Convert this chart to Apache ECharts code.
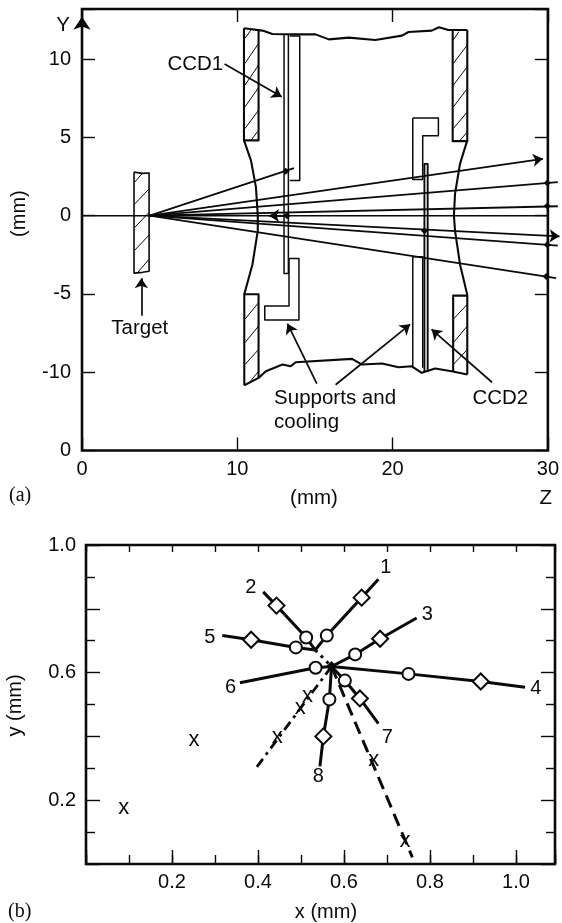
<!DOCTYPE html>
<html><head><meta charset="utf-8">
<style>html,body{margin:0;padding:0;background:#fff}#c{width:562px;height:923px}</style>
<script src="https://cdn.jsdelivr.net/npm/echarts@6/dist/echarts.min.js"></script>
</head><body><div id="c"></div>
<script>
// ---- panel (a): detector geometry, z / Y in mm ----
const aXTicks = {0:'0',10:'10',20:'20',30:'30'};
const aYTicks = {'-15':'0','-10':'-10','-5':'-5','0':'0','5':'5','10':'10'};
const wallOutlines = [
  [[10.43,11.97],[10.43,4.81],[11.37,4.81],[11.37,11.85]],
  [[23.87,11.86],[23.87,4.76],[24.81,4.76],[24.81,11.86]],
  [[10.45,-10.83],[10.45,-5.02],[11.37,-5.02],[11.37,-10.36]],
  [[23.9,-9.94],[23.9,-5.11],[24.81,-5.11],[24.81,-10.15]]
];
const topEdge = [[10.43,11.97],[11.62,11.82],[12.26,11.60],[13.97,11.58],[15.04,11.58],[15.90,11.26],[17.18,11.37],[18.89,11.22],[20.60,11.50],[21.03,11.73],[22.52,11.82],[22.99,12.03],[23.59,11.86],[24.81,11.86]];
const bottomEdge = [[10.45,-10.83],[11.37,-10.36],[11.84,-9.94],[12.91,-9.51],[13.44,-9.62],[13.76,-9.36],[17.39,-9.15],[18.03,-9.51],[19.32,-9.44],[20.38,-9.68],[21.24,-9.62],[21.88,-10.04],[22.74,-9.76],[23.80,-9.94],[24.81,-10.15]];
const leftBore = [[10.43,4.81],[10.88,3.53],[11.20,1.82],[11.32,0],[11.32,-0.96],[10.98,-3.10],[10.45,-5.02]];
const rightBore = [[24.81,4.81],[24.34,3.31],[24.02,1.39],[23.95,0],[24.02,-0.96],[24.34,-3.10],[24.81,-5.06]];
const targetOutline = [[3.35,2.78],[3.9,2.7],[4.32,2.72],[4.32,-3.55],[3.9,-3.62],[3.35,-3.67],[3.35,2.78]];
const thinParts = [
  [[13.38,11.47],[14.02,11.47],[14.02,2.24],[13.38,2.24]],
  [[13.33,-2.73],[13.97,-2.73],[13.97,-6.67],[11.77,-6.67],[11.77,-5.77],[13.33,-5.77],[13.33,-2.73]],
  [[21.30,6.24],[22.95,6.24],[22.95,5.11],[21.94,5.11],[21.94,2.31],[21.30,2.31],[21.30,6.24]],
  [[21.30,-2.63],[21.94,-2.63],[21.94,-9.72]],
  [[21.30,-2.63],[21.30,-9.72]],
  [[13.01,11.54],[13.01,-3.70],[13.29,-3.70],[13.29,11.54]]
];
const ccd2Outline = [[22.05,-9.98],[22.05,3.31],[22.26,3.31],[22.26,-9.98]];
const hatches = [
  [[10.49,11.32],[10.88,11.86]],[[10.49,9.72],[11.37,11.0]],[[10.49,8.33],[11.37,9.62]],[[10.49,6.94],[11.37,8.18]],[[10.49,5.56],[11.37,6.73]],[[10.88,4.81],[11.37,5.45]],
  [[23.91,11.22],[24.27,11.75]],[[23.91,9.72],[24.81,10.90]],[[23.91,8.33],[24.81,9.51]],[[23.91,6.94],[24.81,8.12]],[[23.91,5.56],[24.81,6.62]],[[24.34,4.81],[24.81,5.34]],
  [[3.40,2.14],[3.89,2.71]],[[3.40,0.75],[4.32,1.71]],[[3.40,-0.75],[4.32,0.21]],[[3.40,-2.2],[4.32,-1.24]],[[3.61,-3.6],[4.32,-2.78]],
  [[10.49,-6.62],[11.37,-5.56]],[[10.49,-8.12],[11.37,-7.05]],[[10.49,-9.51],[11.37,-8.55]],[[10.88,-10.53],[11.37,-9.94]],
  [[23.91,-6.62],[24.81,-5.66]],[[23.91,-8.12],[24.81,-7.05]],[[23.91,-9.51],[24.81,-8.55]]
];
const rayOrigin = [4.36,0];
const rayEnds = [[13.65,3.03],[29.68,3.63],[30.64,2.14],[30.64,0.60],[30.75,-1.32],[30.64,-1.92],[30.53,-3.99]];
const rayArrowed = [false,true,false,false,true,false,false];
const rayDots = [[13.12,2.84],[13.2,0],[22.05,-0.96],[29.96,2.09],[29.96,0.62],[29.96,-1.86],[29.89,-3.89]];
const baseLine = [[0,0],[30,0]];
const backArrow = [[13.3,0],[12.05,0]];
const pointerArrows = [
  [[9.18,9.68],[12.86,7.59]],
  [[3.82,-6.4],[3.82,-4.0]],
  [[15.12,-10.73],[13.23,-6.9]],
  [[16.33,-10.8],[21.13,-6.94]],
  [[26.4,-10.64],[22.51,-7.26]]
];
const axisArrow = [[0,11.73],[0,12.7]];
const aTexts = [
  ['CCD1',7.3,9.68,'center'],['Target',3.72,-7.22,'center'],['Supports and',12.37,-11.69,'left'],['cooling',12.37,-13.18,'left'],
  ['CCD2',26.94,-11.65,'center'],['Y',-1.22,12.18,'center'],['Z',29.87,-18.08,'center'],['(mm)',14.94,-18.08,'center']
];
const aSideTitle = ['(mm)',-4.0,0.13];

// ---- panel (b): track pattern, x / y in mm ----
const bXTicks = {2:'0.2',4:'0.4',6:'0.6',8:'0.8',10:'1.0'};
const bYTicks = {2:'0.2',6:'0.6',10:'1.0'};
const vertexA = [0.571,0.619];
const vertexB = [0.533,0.671];
const track1 = [vertexB,[0.560,0.716],[0.641,0.835],[0.680,0.893]];
const track2 = [vertexB,[0.512,0.710],[0.443,0.810],[0.412,0.853]];
const track5 = [vertexB,[0.488,0.679],[0.384,0.703],[0.317,0.716]];
const track3 = [vertexA,[0.626,0.657],[0.684,0.706],[0.769,0.771]];
const track4 = [vertexA,[0.750,0.596],[0.918,0.572],[1.021,0.554]];
const track6 = [vertexA,[0.534,0.615],[0.358,0.568]];
const track7 = [vertexA,[0.602,0.575],[0.637,0.519],[0.680,0.440]];
const track8 = [vertexA,[0.566,0.516],[0.552,0.400],[0.544,0.306]];
const dashedTrack = [vertexA,[0.759,0.021]];
const dashDotTrack = [vertexA,[0.396,0.302]];
const dottedLink = [vertexB,vertexA];
const circles = [[0.560,0.716],[0.512,0.710],[0.488,0.679],[0.626,0.657],[0.750,0.596],[0.534,0.615],[0.602,0.575],[0.566,0.516]];
const diamonds = [[0.641,0.835],[0.443,0.810],[0.384,0.703],[0.684,0.706],[0.918,0.572],[0.637,0.519],[0.552,0.400]];
const crosses = [[0.515,0.526],[0.498,0.490],[0.445,0.398],[0.251,0.390],[0.088,0.176],[0.669,0.327],[0.742,0.073]];
const trackNumbers = [['1',0.697,0.929],['2',0.383,0.867],['3',0.794,0.781],['4',1.046,0.551],['5',0.288,0.710],['6',0.336,0.552],['7',0.701,0.398],['8',0.540,0.273]];
const bTitles = [['x (mm)',0.558,-0.152]];
const bSideTitle = ['y (mm)',-0.165,0.497];
const panelTags = [['(a)',9,497],['(b)',8,913]];

const INK = '#0a0a0a', SANS = '"Liberation Sans",Arial,sans-serif', SERIF = '"Liberation Serif",serif';
const series = [];
function ax(g){return {xAxisIndex:g===0?0:2, yAxisIndex:g===0?0:2};}
function poly(g,pts,w,extra){
  series.push(Object.assign({type:'line',data:pts,showSymbol:false,symbol:'none',clip:false,silent:true,z:3,
    lineStyle:Object.assign({color:INK,width:w,cap:'butt',join:'round'},extra||{})},ax(g)));
}
function segs(g,list,w,arrows,size){
  series.push(Object.assign({type:'lines',coordinateSystem:'cartesian2d',polyline:false,clip:false,silent:true,z:4,
    symbol:arrows?['none','arrow']:['none','none'],symbolSize:size||9,
    lineStyle:{color:INK,width:w,opacity:1,curveness:0},
    data:list.map(s=>({coords:s}))},ax(g)));
}
function texts(g,list,size,rot,font){
  list.forEach(t=>{
    series.push(Object.assign({type:'scatter',symbol:'circle',symbolSize:0,clip:false,silent:true,z:8,
      data:[[t[1],t[2]]],itemStyle:{opacity:1},
      label:{show:true,position:'inside',formatter:t[0],color:INK,fontFamily:font||SANS,fontSize:size,rotate:rot||0,
        align:t[3]||'center',verticalAlign:'middle'},labelLayout:{hideOverlap:false}},ax(g)));
  });
}
// panel a
wallOutlines.forEach(p=>poly(0,p,2.1));
poly(0,topEdge,2.1); poly(0,bottomEdge,2.1);
poly(0,leftBore,2.1); poly(0,rightBore,2.1);
poly(0,targetOutline,1.6);
thinParts.forEach(p=>poly(0,p,1.5));
poly(0,ccd2Outline,1.9);
segs(0,hatches,1,false);
poly(0,baseLine,1.5);
segs(0,rayEnds.map(e=>[rayOrigin,e]).filter((s,i)=>!rayArrowed[i]),1.8,false);
segs(0,rayEnds.map(e=>[rayOrigin,e]).filter((s,i)=>rayArrowed[i]),1.8,true,10);
segs(0,[backArrow],1.8,true,10);
segs(0,pointerArrows,1.7,true,10);
segs(0,[axisArrow],2,true,13);
series.push(Object.assign({type:'scatter',data:rayDots,symbol:'diamond',symbolSize:7,clip:false,silent:true,z:5,itemStyle:{color:INK,opacity:1}},ax(0)));
texts(0,aTexts,20.5);
texts(0,[aSideTitle],20,90);
// panel b
[track1,track2,track5,track3,track4,track6,track7,track8].forEach(p=>poly(1,p,3));
poly(1,dashedTrack,3,{type:[13,7]});
poly(1,dashDotTrack,2.8,{type:[10,5,3,5]});
poly(1,dottedLink,3,{type:[3,5]});
series.push(Object.assign({type:'scatter',data:[vertexA],symbol:'diamond',symbolSize:11,clip:false,silent:true,z:5,itemStyle:{color:INK,opacity:1}},ax(1)));
series.push(Object.assign({type:'scatter',data:circles,symbol:'circle',symbolSize:12,clip:false,silent:true,z:6,itemStyle:{color:'#fff',borderColor:INK,borderWidth:2,opacity:1}},ax(1)));
series.push(Object.assign({type:'scatter',data:diamonds,symbol:'diamond',symbolSize:16,clip:false,silent:true,z:6,itemStyle:{color:'#fff',borderColor:INK,borderWidth:2,opacity:1}},ax(1)));
texts(1,crosses.map(c=>['x',c[0],c[1]]),22);
texts(1,trackNumbers,20);
texts(1,bTitles,20);
texts(1,[bSideTitle],20,90);

const lbl = {color:INK,fontFamily:SANS,fontSize:20};
const hide = {show:false};
const noLine = {show:false,onZero:false};
function tick(len,w){return {show:true,inside:true,length:len,lineStyle:{color:INK,width:w||1.4}};}
const xAxis = [
  {gridIndex:0,type:'value',min:0,max:30,interval:10,position:'bottom',axisLine:noLine,splitLine:hide,axisTick:tick(13),
    axisLabel:Object.assign({margin:9,showMinLabel:true,showMaxLabel:true,formatter:v=>aXTicks[v]||''},lbl)},
  {gridIndex:0,type:'value',min:0,max:30,interval:10,position:'top',axisLine:noLine,splitLine:hide,axisTick:tick(13),axisLabel:hide},
  {gridIndex:1,type:'value',min:0,max:1.0907,interval:0.2,position:'bottom',axisLine:noLine,splitLine:hide,axisTick:tick(14),
    axisLabel:Object.assign({margin:8,formatter:v=>bXTicks[Math.round(v*10)]||''},lbl)},
  {gridIndex:1,type:'value',min:0,max:1.0907,interval:0.1,position:'top',axisLine:noLine,splitLine:hide,axisTick:tick(7),axisLabel:hide},
  {gridIndex:1,type:'value',min:0,max:1.0907,interval:0.1,position:'bottom',axisLine:noLine,splitLine:hide,axisTick:tick(9),axisLabel:hide}
];
const yAxis = [
  {gridIndex:0,type:'value',min:-15,max:13.2,interval:5,position:'left',axisLine:noLine,splitLine:hide,axisTick:tick(13),
    axisLabel:Object.assign({margin:11,padding:[0,0,4,0],formatter:v=>aYTicks[String(v)]||''},lbl)},
  {gridIndex:0,type:'value',min:-15,max:13.2,interval:5,position:'right',axisLine:noLine,splitLine:hide,axisTick:tick(13),axisLabel:hide},
  {gridIndex:1,type:'value',min:0,max:1,interval:0.2,position:'left',axisLine:noLine,splitLine:hide,axisTick:tick(14),
    minorTick:{show:true,splitNumber:2,length:9,lineStyle:{color:INK,width:1.4}},
    axisLabel:Object.assign({margin:10,padding:[0,0,4,0],formatter:v=>bYTicks[Math.round(v*10)]||''},lbl)},
  {gridIndex:1,type:'value',min:0,max:1,interval:0.2,position:'right',axisLine:noLine,splitLine:hide,axisTick:tick(14),
    minorTick:{show:true,splitNumber:2,length:9,lineStyle:{color:INK,width:1.4}},axisLabel:hide}
];
const chart = echarts.init(document.getElementById('c'),null,{renderer:'canvas'});
chart.setOption({
  animation:false,backgroundColor:'#fff',tooltip:{show:false},legend:{show:false},
  grid:[
    {left:82,top:9,width:468,height:441.5,show:true,backgroundColor:'transparent',borderColor:INK,borderWidth:2.6,containLabel:false},
    {left:86,top:545,width:469,height:319,show:true,backgroundColor:'transparent',borderColor:INK,borderWidth:2.6,containLabel:false}
  ],
  xAxis,yAxis,series,
  graphic:panelTags.map(t=>({type:'text',left:t[1],top:t[2]-11,silent:true,style:{text:t[0],font:'20px '+SERIF,fill:INK}}))
});
</script></body></html>
